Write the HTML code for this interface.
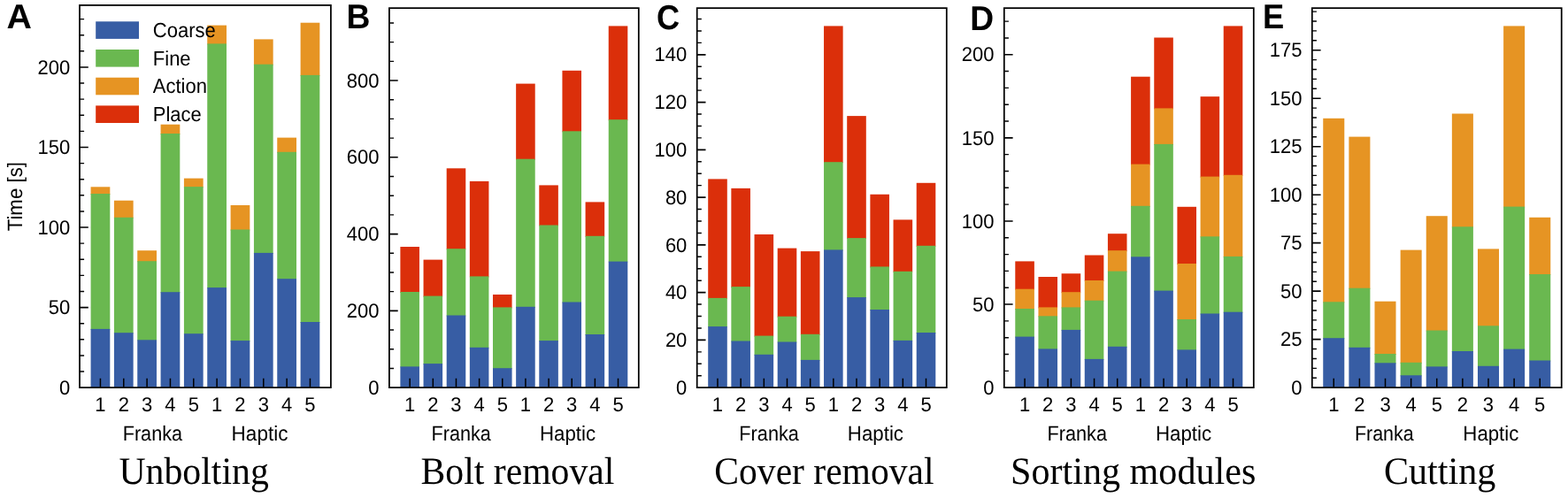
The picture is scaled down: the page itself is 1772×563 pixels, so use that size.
<!DOCTYPE html>
<html lang="en">
<head>
<meta charset="utf-8">
<title>Task completion time per phase</title>
<style>
html,body{margin:0;padding:0;background:#fff;}
body{width:1772px;height:563px;overflow:hidden;}
svg{display:block;}
svg text{white-space:pre;text-rendering:geometricPrecision;}
</style>
</head>
<body>
<svg width="1772" height="563" viewBox="0 0 1772 563">
<rect x="0" y="0" width="1772" height="563" fill="#ffffff"/>
<g class="panel-A">
<g class="bars">
<rect x="102.58" y="211.3" width="21.73" height="8.7" fill="#e69423"/>
<rect x="102.58" y="219" width="21.73" height="153.9" fill="#6ab850"/>
<rect x="102.58" y="371.9" width="21.73" height="66.25" fill="#375da4"/>
<rect x="128.91" y="226.7" width="21.73" height="20.1" fill="#e69423"/>
<rect x="128.91" y="245.8" width="21.73" height="131.4" fill="#6ab850"/>
<rect x="128.91" y="376.2" width="21.73" height="61.95" fill="#375da4"/>
<rect x="155.25" y="283.2" width="21.73" height="13" fill="#e69423"/>
<rect x="155.25" y="295.2" width="21.73" height="90.1" fill="#6ab850"/>
<rect x="155.25" y="384.3" width="21.73" height="53.85" fill="#375da4"/>
<rect x="181.58" y="140.7" width="21.73" height="11.3" fill="#e69423"/>
<rect x="181.58" y="151" width="21.73" height="180.2" fill="#6ab850"/>
<rect x="181.58" y="330.2" width="21.73" height="107.95" fill="#375da4"/>
<rect x="207.92" y="201.6" width="21.73" height="10.5" fill="#e69423"/>
<rect x="207.92" y="211.1" width="21.73" height="167.1" fill="#6ab850"/>
<rect x="207.92" y="377.2" width="21.73" height="60.95" fill="#375da4"/>
<rect x="234.25" y="28.6" width="21.73" height="21.8" fill="#e69423"/>
<rect x="234.25" y="49.4" width="21.73" height="276.7" fill="#6ab850"/>
<rect x="234.25" y="325.1" width="21.73" height="113.05" fill="#375da4"/>
<rect x="260.59" y="232" width="21.73" height="28.5" fill="#e69423"/>
<rect x="260.59" y="259.5" width="21.73" height="126.6" fill="#6ab850"/>
<rect x="260.59" y="385.1" width="21.73" height="53.05" fill="#375da4"/>
<rect x="286.93" y="44.4" width="21.73" height="29.3" fill="#e69423"/>
<rect x="286.93" y="72.7" width="21.73" height="214.2" fill="#6ab850"/>
<rect x="286.93" y="285.9" width="21.73" height="152.25" fill="#375da4"/>
<rect x="313.26" y="155.6" width="21.73" height="17.2" fill="#e69423"/>
<rect x="313.26" y="171.8" width="21.73" height="144.4" fill="#6ab850"/>
<rect x="313.26" y="315.2" width="21.73" height="122.95" fill="#375da4"/>
<rect x="339.6" y="25.7" width="21.73" height="60.2" fill="#e69423"/>
<rect x="339.6" y="84.9" width="21.73" height="280.1" fill="#6ab850"/>
<rect x="339.6" y="364" width="21.73" height="74.15" fill="#375da4"/>
</g>
<g class="ticks" stroke="#000" fill="none">
<path stroke-width="1.6" d="M90 347.59h9.8M90 257.04h9.8M90 166.49h9.8M90 75.93h9.8"/>
<path stroke-width="1.4" d="M90 420.04h5.1M90 401.93h5.1M90 383.82h5.1M90 365.71h5.1M90 329.48h5.1M90 311.37h5.1M90 293.26h5.1M90 275.15h5.1M90 238.93h5.1M90 220.82h5.1M90 202.71h5.1M90 184.6h5.1M90 148.37h5.1M90 130.26h5.1M90 112.15h5.1M90 94.04h5.1M90 57.82h5.1M90 39.71h5.1M90 21.6h5.1"/>
<path stroke-width="1.5" d="M113.44 438.15v-10.4M139.77 438.15v-10.4M166.11 438.15v-10.4M192.45 438.15v-10.4M218.78 438.15v-10.4M245.12 438.15v-10.4M271.45 438.15v-10.4M297.79 438.15v-10.4M324.13 438.15v-10.4M350.46 438.15v-10.4"/>
</g>
<rect class="axes" x="90" y="5.9" width="283.9" height="432.25" fill="none" stroke="#000" stroke-width="1.75"/>
<g class="ylabels" font-family='"Liberation Sans", Arial, Helvetica, sans-serif' font-size="22" fill="#000">
<text transform="translate(67.03 445.8) scale(1 1.03)">0</text>
<text transform="translate(54.78 355.24) scale(1 1.03)">50</text>
<text transform="translate(42.53 264.69) scale(1 1.03)">100</text>
<text transform="translate(42.53 174.14) scale(1 1.03)">150</text>
<text transform="translate(42.53 83.58) scale(1 1.03)">200</text>
</g>
<g class="xlabels" font-family='"Liberation Sans", Arial, Helvetica, sans-serif' font-size="22" text-anchor="middle" fill="#000">
<text transform="translate(113.44 465) scale(1.0 1.03)">1</text>
<text transform="translate(139.77 465) scale(1.0 1.03)">2</text>
<text transform="translate(166.11 465) scale(1.0 1.03)">3</text>
<text transform="translate(192.45 465) scale(1.0 1.03)">4</text>
<text transform="translate(218.78 465) scale(1.0 1.03)">5</text>
<text transform="translate(245.12 465) scale(1.0 1.03)">1</text>
<text transform="translate(271.45 465) scale(1.0 1.03)">2</text>
<text transform="translate(297.79 465) scale(1.0 1.03)">3</text>
<text transform="translate(324.13 465) scale(1.0 1.03)">4</text>
<text transform="translate(350.46 465) scale(1.0 1.03)">5</text>
</g>
<g class="groups" font-family='"Liberation Sans", Arial, Helvetica, sans-serif' font-size="22" fill="#000">
<text transform="translate(138.68 497.8) scale(0.9843 1.07)">Franka</text>
<text transform="translate(261.61 497.8) scale(1.0233 1.07)">Haptic</text>
</g>
<text class="title" transform="translate(134.42 547) scale(1.0065 1.05)" font-family='"Liberation Serif", "Times New Roman", Times, serif' font-size="41.5" fill="#000">Unbolting</text>
<text class="letter" transform="translate(7.56 31.8) scale(1.0721 1.06)" font-family='"Liberation Sans", Arial, Helvetica, sans-serif' font-size="36.7" font-weight="bold" fill="#000">A</text>
<text class="ylabel" transform="translate(25.1 222.2) rotate(-90) scale(1.011 1.07)" font-family='"Liberation Sans", Arial, Helvetica, sans-serif' font-size="22" text-anchor="middle" fill="#000">Time [s]</text>
<g class="legend" font-family='"Liberation Sans", Arial, Helvetica, sans-serif' font-size="22" fill="#000">
<rect x="108.2" y="24.3" width="48.8" height="19.6" fill="#375da4"/>
<text transform="translate(172.8 42.05) scale(1 1.06)">Coarse</text>
<rect x="108.2" y="56" width="48.8" height="19.6" fill="#6ab850"/>
<text transform="translate(172.8 73.75) scale(1 1.06)">Fine</text>
<rect x="108.2" y="87.7" width="48.8" height="19.6" fill="#e69423"/>
<text transform="translate(172.8 105.45) scale(1 1.06)">Action</text>
<rect x="108.2" y="119.4" width="48.8" height="19.6" fill="#db2f0a"/>
<text transform="translate(172.8 137.15) scale(1 1.06)">Place</text>
</g>
</g>
<g class="panel-B">
<g class="bars">
<rect x="452.39" y="279" width="21.57" height="52" fill="#db2f0a"/>
<rect x="452.39" y="330" width="21.57" height="85.4" fill="#6ab850"/>
<rect x="452.39" y="414.4" width="21.57" height="23.75" fill="#375da4"/>
<rect x="478.54" y="293.6" width="21.57" height="42" fill="#db2f0a"/>
<rect x="478.54" y="334.6" width="21.57" height="77.5" fill="#6ab850"/>
<rect x="478.54" y="411.1" width="21.57" height="27.05" fill="#375da4"/>
<rect x="504.69" y="190.3" width="21.57" height="91.9" fill="#db2f0a"/>
<rect x="504.69" y="281.2" width="21.57" height="76.3" fill="#6ab850"/>
<rect x="504.69" y="356.5" width="21.57" height="81.65" fill="#375da4"/>
<rect x="530.84" y="204.9" width="21.57" height="108.5" fill="#db2f0a"/>
<rect x="530.84" y="312.4" width="21.57" height="81.4" fill="#6ab850"/>
<rect x="530.84" y="392.8" width="21.57" height="45.35" fill="#375da4"/>
<rect x="556.99" y="333" width="21.57" height="15.4" fill="#db2f0a"/>
<rect x="556.99" y="347.4" width="21.57" height="69.8" fill="#6ab850"/>
<rect x="556.99" y="416.2" width="21.57" height="21.95" fill="#375da4"/>
<rect x="583.14" y="94.6" width="21.57" height="86.1" fill="#db2f0a"/>
<rect x="583.14" y="179.7" width="21.57" height="168.1" fill="#6ab850"/>
<rect x="583.14" y="346.8" width="21.57" height="91.35" fill="#375da4"/>
<rect x="609.29" y="209.4" width="21.57" height="46.1" fill="#db2f0a"/>
<rect x="609.29" y="254.5" width="21.57" height="131.6" fill="#6ab850"/>
<rect x="609.29" y="385.1" width="21.57" height="53.05" fill="#375da4"/>
<rect x="635.44" y="79.8" width="21.57" height="69.5" fill="#db2f0a"/>
<rect x="635.44" y="148.3" width="21.57" height="194.2" fill="#6ab850"/>
<rect x="635.44" y="341.5" width="21.57" height="96.65" fill="#375da4"/>
<rect x="661.59" y="228.4" width="21.57" height="39.4" fill="#db2f0a"/>
<rect x="661.59" y="266.8" width="21.57" height="112.2" fill="#6ab850"/>
<rect x="661.59" y="378" width="21.57" height="60.15" fill="#375da4"/>
<rect x="687.74" y="29.4" width="21.57" height="106.8" fill="#db2f0a"/>
<rect x="687.74" y="135.2" width="21.57" height="161.4" fill="#6ab850"/>
<rect x="687.74" y="295.6" width="21.57" height="142.55" fill="#375da4"/>
</g>
<g class="ticks" stroke="#000" fill="none">
<path stroke-width="1.6" d="M439.9 351.37h9.8M439.9 264.59h9.8M439.9 177.8h9.8M439.9 91.02h9.8"/>
<path stroke-width="1.4" d="M439.9 416.45h5.1M439.9 394.76h5.1M439.9 373.06h5.1M439.9 329.67h5.1M439.9 307.98h5.1M439.9 286.28h5.1M439.9 242.89h5.1M439.9 221.19h5.1M439.9 199.5h5.1M439.9 156.11h5.1M439.9 134.41h5.1M439.9 112.72h5.1M439.9 69.33h5.1M439.9 47.63h5.1M439.9 25.94h5.1"/>
<path stroke-width="1.5" d="M463.17 438.15v-10.4M489.32 438.15v-10.4M515.47 438.15v-10.4M541.62 438.15v-10.4M567.77 438.15v-10.4M593.93 438.15v-10.4M620.08 438.15v-10.4M646.23 438.15v-10.4M672.38 438.15v-10.4M698.53 438.15v-10.4"/>
</g>
<rect class="axes" x="439.9" y="9.15" width="281.9" height="429" fill="none" stroke="#000" stroke-width="1.75"/>
<g class="ylabels" font-family='"Liberation Sans", Arial, Helvetica, sans-serif' font-size="22" fill="#000">
<text transform="translate(416.32 445.8) scale(1 1.03)">0</text>
<text transform="translate(391.82 359.02) scale(1 1.03)">200</text>
<text transform="translate(391.82 272.24) scale(1 1.03)">400</text>
<text transform="translate(391.82 185.45) scale(1 1.03)">600</text>
<text transform="translate(391.82 98.67) scale(1 1.03)">800</text>
</g>
<g class="xlabels" font-family='"Liberation Sans", Arial, Helvetica, sans-serif' font-size="22" text-anchor="middle" fill="#000">
<text transform="translate(463.17 465) scale(1.0 1.03)">1</text>
<text transform="translate(489.32 465) scale(1.0 1.03)">2</text>
<text transform="translate(515.47 465) scale(1.0 1.03)">3</text>
<text transform="translate(541.62 465) scale(1.0 1.03)">4</text>
<text transform="translate(567.77 465) scale(1.0 1.03)">5</text>
<text transform="translate(593.93 465) scale(1.0 1.03)">1</text>
<text transform="translate(620.08 465) scale(1.0 1.03)">2</text>
<text transform="translate(646.23 465) scale(1.0 1.03)">3</text>
<text transform="translate(672.38 465) scale(1.0 1.03)">4</text>
<text transform="translate(698.53 465) scale(1.0 1.03)">5</text>
</g>
<g class="groups" font-family='"Liberation Sans", Arial, Helvetica, sans-serif' font-size="22" fill="#000">
<text transform="translate(487.58 497.8) scale(0.9828 1.07)">Franka</text>
<text transform="translate(609.93 497.8) scale(1.0117 1.07)">Haptic</text>
</g>
<text class="title" transform="translate(475.54 547) scale(1.0044 1.05)" font-family='"Liberation Serif", "Times New Roman", Times, serif' font-size="41.5" fill="#000">Bolt removal</text>
<text class="letter" transform="translate(391.46 31.8) scale(1.0145 1.06)" font-family='"Liberation Sans", Arial, Helvetica, sans-serif' font-size="36.7" font-weight="bold" fill="#000">B</text>
</g>
<g class="panel-C">
<g class="bars">
<rect x="800.2" y="202.4" width="21.59" height="135.5" fill="#db2f0a"/>
<rect x="800.2" y="336.9" width="21.59" height="33.2" fill="#6ab850"/>
<rect x="800.2" y="369.1" width="21.59" height="69.05" fill="#375da4"/>
<rect x="826.36" y="212.9" width="21.59" height="112.2" fill="#db2f0a"/>
<rect x="826.36" y="324.1" width="21.59" height="62.4" fill="#6ab850"/>
<rect x="826.36" y="385.5" width="21.59" height="52.65" fill="#375da4"/>
<rect x="852.53" y="265" width="21.59" height="115.6" fill="#db2f0a"/>
<rect x="852.53" y="379.6" width="21.59" height="22.2" fill="#6ab850"/>
<rect x="852.53" y="400.8" width="21.59" height="37.35" fill="#375da4"/>
<rect x="878.7" y="280.6" width="21.59" height="78.1" fill="#db2f0a"/>
<rect x="878.7" y="357.7" width="21.59" height="29.8" fill="#6ab850"/>
<rect x="878.7" y="386.5" width="21.59" height="51.65" fill="#375da4"/>
<rect x="904.87" y="284.1" width="21.59" height="94.7" fill="#db2f0a"/>
<rect x="904.87" y="377.8" width="21.59" height="30.1" fill="#6ab850"/>
<rect x="904.87" y="406.9" width="21.59" height="31.25" fill="#375da4"/>
<rect x="931.04" y="29.4" width="21.59" height="154.8" fill="#db2f0a"/>
<rect x="931.04" y="183.2" width="21.59" height="100.2" fill="#6ab850"/>
<rect x="931.04" y="282.4" width="21.59" height="155.75" fill="#375da4"/>
<rect x="957.21" y="131.1" width="21.59" height="139" fill="#db2f0a"/>
<rect x="957.21" y="269.1" width="21.59" height="68" fill="#6ab850"/>
<rect x="957.21" y="336.1" width="21.59" height="102.05" fill="#375da4"/>
<rect x="983.38" y="219.75" width="21.59" height="82.7" fill="#db2f0a"/>
<rect x="983.38" y="301.45" width="21.59" height="49.55" fill="#6ab850"/>
<rect x="983.38" y="350" width="21.59" height="88.15" fill="#375da4"/>
<rect x="1009.55" y="248.4" width="21.59" height="59.4" fill="#db2f0a"/>
<rect x="1009.55" y="306.8" width="21.59" height="79.1" fill="#6ab850"/>
<rect x="1009.55" y="384.9" width="21.59" height="53.25" fill="#375da4"/>
<rect x="1035.72" y="206.8" width="21.59" height="72" fill="#db2f0a"/>
<rect x="1035.72" y="277.8" width="21.59" height="99.2" fill="#6ab850"/>
<rect x="1035.72" y="376" width="21.59" height="62.15" fill="#375da4"/>
</g>
<g class="ticks" stroke="#000" fill="none">
<path stroke-width="1.6" d="M787.7 384.39h9.8M787.7 330.63h9.8M787.7 276.87h9.8M787.7 223.11h9.8M787.7 169.35h9.8M787.7 115.59h9.8M787.7 61.83h9.8"/>
<path stroke-width="1.4" d="M787.7 424.71h5.1M787.7 411.27h5.1M787.7 397.83h5.1M787.7 370.95h5.1M787.7 357.51h5.1M787.7 344.07h5.1M787.7 317.19h5.1M787.7 303.75h5.1M787.7 290.31h5.1M787.7 263.43h5.1M787.7 249.99h5.1M787.7 236.55h5.1M787.7 209.67h5.1M787.7 196.23h5.1M787.7 182.79h5.1M787.7 155.91h5.1M787.7 142.47h5.1M787.7 129.03h5.1M787.7 102.15h5.1M787.7 88.71h5.1M787.7 75.27h5.1M787.7 48.39h5.1M787.7 34.95h5.1M787.7 21.51h5.1"/>
<path stroke-width="1.5" d="M810.99 438.15v-10.4M837.16 438.15v-10.4M863.33 438.15v-10.4M889.5 438.15v-10.4M915.67 438.15v-10.4M941.83 438.15v-10.4M968 438.15v-10.4M994.17 438.15v-10.4M1020.34 438.15v-10.4M1046.51 438.15v-10.4"/>
</g>
<rect class="axes" x="787.7" y="9.15" width="282.1" height="429" fill="none" stroke="#000" stroke-width="1.75"/>
<g class="ylabels" font-family='"Liberation Sans", Arial, Helvetica, sans-serif' font-size="22" fill="#000">
<text transform="translate(764.12 445.8) scale(1 1.03)">0</text>
<text transform="translate(751.88 392.04) scale(1 1.03)">20</text>
<text transform="translate(751.88 338.28) scale(1 1.03)">40</text>
<text transform="translate(751.88 284.52) scale(1 1.03)">60</text>
<text transform="translate(751.88 230.76) scale(1 1.03)">80</text>
<text transform="translate(739.62 177) scale(1 1.03)">100</text>
<text transform="translate(739.62 123.24) scale(1 1.03)">120</text>
<text transform="translate(739.62 69.48) scale(1 1.03)">140</text>
</g>
<g class="xlabels" font-family='"Liberation Sans", Arial, Helvetica, sans-serif' font-size="22" text-anchor="middle" fill="#000">
<text transform="translate(810.99 465) scale(1.0 1.03)">1</text>
<text transform="translate(837.16 465) scale(1.0 1.03)">2</text>
<text transform="translate(863.33 465) scale(1.0 1.03)">3</text>
<text transform="translate(889.5 465) scale(1.0 1.03)">4</text>
<text transform="translate(915.67 465) scale(1.0 1.03)">5</text>
<text transform="translate(941.83 465) scale(1.0 1.03)">1</text>
<text transform="translate(968 465) scale(1.0 1.03)">2</text>
<text transform="translate(994.17 465) scale(1.0 1.03)">3</text>
<text transform="translate(1020.34 465) scale(1.0 1.03)">4</text>
<text transform="translate(1046.51 465) scale(1.0 1.03)">5</text>
</g>
<g class="groups" font-family='"Liberation Sans", Arial, Helvetica, sans-serif' font-size="22" fill="#000">
<text transform="translate(835.37 497.8) scale(0.9858 1.07)">Franka</text>
<text transform="translate(957.83 497.8) scale(1.0133 1.07)">Haptic</text>
</g>
<text class="title" transform="translate(807.35 547) scale(1.0015 1.05)" font-family='"Liberation Serif", "Times New Roman", Times, serif' font-size="41.5" fill="#000">Cover removal</text>
<text class="letter" transform="translate(742.02 33.2) scale(0.9875 1.06)" font-family='"Liberation Sans", Arial, Helvetica, sans-serif' font-size="36.7" font-weight="bold" fill="#000">C</text>
</g>
<g class="panel-D">
<g class="bars">
<rect x="1147.29" y="295.4" width="21.58" height="32.3" fill="#db2f0a"/>
<rect x="1147.29" y="326.7" width="21.58" height="23.3" fill="#e69423"/>
<rect x="1147.29" y="349" width="21.58" height="32.6" fill="#6ab850"/>
<rect x="1147.29" y="380.6" width="21.58" height="57.55" fill="#375da4"/>
<rect x="1173.45" y="313" width="21.58" height="35.4" fill="#db2f0a"/>
<rect x="1173.45" y="347.4" width="21.58" height="10.9" fill="#e69423"/>
<rect x="1173.45" y="357.3" width="21.58" height="38.1" fill="#6ab850"/>
<rect x="1173.45" y="394.4" width="21.58" height="43.75" fill="#375da4"/>
<rect x="1199.61" y="309.25" width="21.58" height="21.95" fill="#db2f0a"/>
<rect x="1199.61" y="330.2" width="21.58" height="18.2" fill="#e69423"/>
<rect x="1199.61" y="347.4" width="21.58" height="26.5" fill="#6ab850"/>
<rect x="1199.61" y="372.9" width="21.58" height="65.25" fill="#375da4"/>
<rect x="1225.77" y="288.5" width="21.58" height="29.5" fill="#db2f0a"/>
<rect x="1225.77" y="317" width="21.58" height="23.7" fill="#e69423"/>
<rect x="1225.77" y="339.7" width="21.58" height="67.2" fill="#6ab850"/>
<rect x="1225.77" y="405.9" width="21.58" height="32.25" fill="#375da4"/>
<rect x="1251.93" y="264.2" width="21.58" height="19.95" fill="#db2f0a"/>
<rect x="1251.93" y="283.15" width="21.58" height="24.45" fill="#e69423"/>
<rect x="1251.93" y="306.6" width="21.58" height="86.2" fill="#6ab850"/>
<rect x="1251.93" y="391.8" width="21.58" height="46.35" fill="#375da4"/>
<rect x="1278.09" y="86.7" width="21.58" height="99.9" fill="#db2f0a"/>
<rect x="1278.09" y="185.6" width="21.58" height="48.2" fill="#e69423"/>
<rect x="1278.09" y="232.8" width="21.58" height="58.5" fill="#6ab850"/>
<rect x="1278.09" y="290.3" width="21.58" height="147.85" fill="#375da4"/>
<rect x="1304.25" y="42.5" width="21.58" height="80.9" fill="#db2f0a"/>
<rect x="1304.25" y="122.4" width="21.58" height="41.5" fill="#e69423"/>
<rect x="1304.25" y="162.9" width="21.58" height="166.7" fill="#6ab850"/>
<rect x="1304.25" y="328.6" width="21.58" height="109.55" fill="#375da4"/>
<rect x="1330.41" y="233.8" width="21.58" height="65.2" fill="#db2f0a"/>
<rect x="1330.41" y="298" width="21.58" height="64" fill="#e69423"/>
<rect x="1330.41" y="361" width="21.58" height="35.4" fill="#6ab850"/>
<rect x="1330.41" y="395.4" width="21.58" height="42.75" fill="#375da4"/>
<rect x="1356.57" y="109.15" width="21.58" height="91.45" fill="#db2f0a"/>
<rect x="1356.57" y="199.6" width="21.58" height="68.75" fill="#e69423"/>
<rect x="1356.57" y="267.35" width="21.58" height="88.15" fill="#6ab850"/>
<rect x="1356.57" y="354.5" width="21.58" height="83.65" fill="#375da4"/>
<rect x="1382.73" y="29.4" width="21.58" height="169.4" fill="#db2f0a"/>
<rect x="1382.73" y="197.8" width="21.58" height="93.1" fill="#e69423"/>
<rect x="1382.73" y="289.9" width="21.58" height="63.8" fill="#6ab850"/>
<rect x="1382.73" y="352.7" width="21.58" height="85.45" fill="#375da4"/>
</g>
<g class="ticks" stroke="#000" fill="none">
<path stroke-width="1.6" d="M1134.8 344.05h9.8M1134.8 249.95h9.8M1134.8 155.85h9.8M1134.8 61.75h9.8"/>
<path stroke-width="1.4" d="M1134.8 419.33h5.1M1134.8 400.51h5.1M1134.8 381.69h5.1M1134.8 362.87h5.1M1134.8 325.23h5.1M1134.8 306.41h5.1M1134.8 287.59h5.1M1134.8 268.77h5.1M1134.8 231.13h5.1M1134.8 212.31h5.1M1134.8 193.49h5.1M1134.8 174.67h5.1M1134.8 137.03h5.1M1134.8 118.21h5.1M1134.8 99.39h5.1M1134.8 80.57h5.1M1134.8 42.93h5.1M1134.8 24.11h5.1"/>
<path stroke-width="1.5" d="M1158.08 438.15v-10.4M1184.24 438.15v-10.4M1210.4 438.15v-10.4M1236.56 438.15v-10.4M1262.72 438.15v-10.4M1288.88 438.15v-10.4M1315.04 438.15v-10.4M1341.2 438.15v-10.4M1367.36 438.15v-10.4M1393.52 438.15v-10.4"/>
</g>
<rect class="axes" x="1134.8" y="9.15" width="282" height="429" fill="none" stroke="#000" stroke-width="1.75"/>
<g class="ylabels" font-family='"Liberation Sans", Arial, Helvetica, sans-serif' font-size="22" fill="#000">
<text transform="translate(1111.22 445.8) scale(1 1.03)">0</text>
<text transform="translate(1098.97 351.7) scale(1 1.03)">50</text>
<text transform="translate(1086.72 257.6) scale(1 1.03)">100</text>
<text transform="translate(1086.72 163.5) scale(1 1.03)">150</text>
<text transform="translate(1086.72 69.4) scale(1 1.03)">200</text>
</g>
<g class="xlabels" font-family='"Liberation Sans", Arial, Helvetica, sans-serif' font-size="22" text-anchor="middle" fill="#000">
<text transform="translate(1158.08 465) scale(1.0 1.03)">1</text>
<text transform="translate(1184.24 465) scale(1.0 1.03)">2</text>
<text transform="translate(1210.4 465) scale(1.0 1.03)">3</text>
<text transform="translate(1236.56 465) scale(1.0 1.03)">4</text>
<text transform="translate(1262.72 465) scale(1.0 1.03)">5</text>
<text transform="translate(1288.88 465) scale(1.0 1.03)">1</text>
<text transform="translate(1315.04 465) scale(1.0 1.03)">2</text>
<text transform="translate(1341.2 465) scale(1.0 1.03)">3</text>
<text transform="translate(1367.36 465) scale(1.0 1.03)">4</text>
<text transform="translate(1393.52 465) scale(1.0 1.03)">5</text>
</g>
<g class="groups" font-family='"Liberation Sans", Arial, Helvetica, sans-serif' font-size="22" fill="#000">
<text transform="translate(1183.47 497.8) scale(0.9858 1.07)">Franka</text>
<text transform="translate(1305.93 497.8) scale(1.0133 1.07)">Haptic</text>
</g>
<text class="title" transform="translate(1142.01 547) scale(1.0149 1.05)" font-family='"Liberation Serif", "Times New Roman", Times, serif' font-size="41.5" fill="#000">Sorting modules</text>
<text class="letter" transform="translate(1096.27 33.8) scale(1.0133 1.06)" font-family='"Liberation Sans", Arial, Helvetica, sans-serif' font-size="36.7" font-weight="bold" fill="#000">D</text>
</g>
<g class="panel-E">
<g class="bars">
<rect x="1495.25" y="133.8" width="24.03" height="208.5" fill="#e69423"/>
<rect x="1495.25" y="341.3" width="24.03" height="41.9" fill="#6ab850"/>
<rect x="1495.25" y="382.2" width="24.03" height="55.95" fill="#375da4"/>
<rect x="1524.37" y="154.6" width="24.03" height="172.1" fill="#e69423"/>
<rect x="1524.37" y="325.7" width="24.03" height="68.1" fill="#6ab850"/>
<rect x="1524.37" y="392.8" width="24.03" height="45.35" fill="#375da4"/>
<rect x="1553.49" y="340.7" width="24.03" height="60.3" fill="#e69423"/>
<rect x="1553.49" y="400" width="24.03" height="11.3" fill="#6ab850"/>
<rect x="1553.49" y="410.3" width="24.03" height="27.85" fill="#375da4"/>
<rect x="1582.62" y="282.6" width="24.03" height="128.2" fill="#e69423"/>
<rect x="1582.62" y="409.8" width="24.03" height="15.5" fill="#6ab850"/>
<rect x="1582.62" y="424.3" width="24.03" height="13.85" fill="#375da4"/>
<rect x="1611.74" y="244.2" width="24.03" height="130.3" fill="#e69423"/>
<rect x="1611.74" y="373.5" width="24.03" height="41.9" fill="#6ab850"/>
<rect x="1611.74" y="414.4" width="24.03" height="23.75" fill="#375da4"/>
<rect x="1640.86" y="128.5" width="24.03" height="128.8" fill="#e69423"/>
<rect x="1640.86" y="256.3" width="24.03" height="141.7" fill="#6ab850"/>
<rect x="1640.86" y="397" width="24.03" height="41.15" fill="#375da4"/>
<rect x="1669.98" y="281.4" width="24.03" height="87.9" fill="#e69423"/>
<rect x="1669.98" y="368.3" width="24.03" height="46.5" fill="#6ab850"/>
<rect x="1669.98" y="413.8" width="24.03" height="24.35" fill="#375da4"/>
<rect x="1699.1" y="29.4" width="24.03" height="205.2" fill="#e69423"/>
<rect x="1699.1" y="233.6" width="24.03" height="162" fill="#6ab850"/>
<rect x="1699.1" y="394.6" width="24.03" height="43.55" fill="#375da4"/>
<rect x="1728.22" y="245.8" width="24.03" height="65.2" fill="#e69423"/>
<rect x="1728.22" y="310" width="24.03" height="98.5" fill="#6ab850"/>
<rect x="1728.22" y="407.5" width="24.03" height="30.65" fill="#375da4"/>
</g>
<g class="ticks" stroke="#000" fill="none">
<path stroke-width="1.6" d="M1482.8 383.66h9.8M1482.8 329.16h9.8M1482.8 274.67h9.8M1482.8 220.18h9.8M1482.8 165.69h9.8M1482.8 111.19h9.8M1482.8 56.7h9.8"/>
<path stroke-width="1.4" d="M1482.8 427.25h5.1M1482.8 416.35h5.1M1482.8 405.45h5.1M1482.8 394.56h5.1M1482.8 372.76h5.1M1482.8 361.86h5.1M1482.8 350.96h5.1M1482.8 340.06h5.1M1482.8 318.27h5.1M1482.8 307.37h5.1M1482.8 296.47h5.1M1482.8 285.57h5.1M1482.8 263.77h5.1M1482.8 252.88h5.1M1482.8 241.98h5.1M1482.8 231.08h5.1M1482.8 209.28h5.1M1482.8 198.38h5.1M1482.8 187.48h5.1M1482.8 176.59h5.1M1482.8 154.79h5.1M1482.8 143.89h5.1M1482.8 132.99h5.1M1482.8 122.09h5.1M1482.8 100.3h5.1M1482.8 89.4h5.1M1482.8 78.5h5.1M1482.8 67.6h5.1M1482.8 45.8h5.1M1482.8 34.91h5.1M1482.8 24.01h5.1M1482.8 13.11h5.1"/>
<path stroke-width="1.5" d="M1507.26 438.15v-10.4M1536.38 438.15v-10.4M1565.51 438.15v-10.4M1594.63 438.15v-10.4M1623.75 438.15v-10.4M1652.87 438.15v-10.4M1681.99 438.15v-10.4M1711.12 438.15v-10.4M1740.24 438.15v-10.4"/>
</g>
<rect class="axes" x="1482.8" y="9.15" width="281.9" height="429" fill="none" stroke="#000" stroke-width="1.75"/>
<g class="ylabels" font-family='"Liberation Sans", Arial, Helvetica, sans-serif' font-size="22" fill="#000">
<text transform="translate(1459.22 445.8) scale(1 1.03)">0</text>
<text transform="translate(1447.1 391.31) scale(1 1.03)">25</text>
<text transform="translate(1446.97 336.81) scale(1 1.03)">50</text>
<text transform="translate(1447.1 282.32) scale(1 1.03)">75</text>
<text transform="translate(1434.72 227.83) scale(1 1.03)">100</text>
<text transform="translate(1434.85 173.34) scale(1 1.03)">125</text>
<text transform="translate(1434.72 118.84) scale(1 1.03)">150</text>
<text transform="translate(1434.85 64.35) scale(1 1.03)">175</text>
</g>
<g class="xlabels" font-family='"Liberation Sans", Arial, Helvetica, sans-serif' font-size="22" text-anchor="middle" fill="#000">
<text transform="translate(1507.26 465) scale(1.0 1.03)">1</text>
<text transform="translate(1536.38 465) scale(1.0 1.03)">2</text>
<text transform="translate(1565.51 465) scale(1.0 1.03)">3</text>
<text transform="translate(1594.63 465) scale(1.0 1.03)">4</text>
<text transform="translate(1623.75 465) scale(1.0 1.03)">5</text>
<text transform="translate(1652.87 465) scale(1.0 1.03)">2</text>
<text transform="translate(1681.99 465) scale(1.0 1.03)">3</text>
<text transform="translate(1711.12 465) scale(1.0 1.03)">4</text>
<text transform="translate(1740.24 465) scale(1.0 1.03)">5</text>
</g>
<g class="groups" font-family='"Liberation Sans", Arial, Helvetica, sans-serif' font-size="22" fill="#000">
<text transform="translate(1530.89 497.8) scale(0.9768 1.07)">Franka</text>
<text transform="translate(1653.33 497.8) scale(1.01 1.07)">Haptic</text>
</g>
<text class="title" transform="translate(1563.92 547) scale(1.0156 1.05)" font-family='"Liberation Serif", "Times New Roman", Times, serif' font-size="41.5" fill="#000">Cutting</text>
<text class="letter" transform="translate(1427.02 31.8) scale(0.9902 1.06)" font-family='"Liberation Sans", Arial, Helvetica, sans-serif' font-size="36.7" font-weight="bold" fill="#000">E</text>
</g>
</svg>
</body>
</html>
